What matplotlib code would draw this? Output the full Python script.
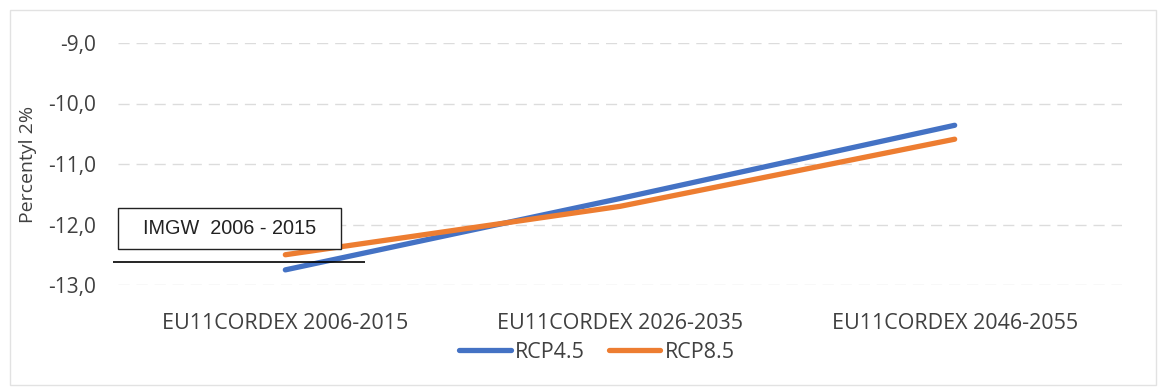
import matplotlib.pyplot as plt
from matplotlib.patches import Rectangle

categories = ["EU11CORDEX 2006-2015", "EU11CORDEX 2026-2035", "EU11CORDEX 2046-2055"]
rcp45 = [-12.75, -11.57, -10.36]
rcp85 = [-12.50, -11.70, -10.59]
imgw_value = -12.62
imgw_label = "IMGW  2006 - 2015"
y_ticks = [-13.0, -12.0, -11.0, -10.0, -9.0]

BLUE = "#4472C4"
ORANGE = "#ED7D31"
TEXT = "#404040"

plt.rcParams["font.family"] = ["Open Sans", "DejaVu Sans"]

fig = plt.figure(figsize=(11.66, 3.92), dpi=100)
ax = fig.add_axes([118 / 1166, 1 - 285 / 392, 1004 / 1166, 242 / 392])

x = list(range(len(categories)))
ax.plot(x, rcp45, color=BLUE, lw=3.8, solid_capstyle="round", label="RCP4.5", zorder=3)
ax.plot(x, rcp85, color=ORANGE, lw=3.8, solid_capstyle="round", label="RCP8.5", zorder=3)

ax.set_xlim(-0.5, len(categories) - 0.5)
ax.set_ylim(-13.0, -9.0)
ax.set_yticks(y_ticks)
ax.set_yticklabels([f"{v:.1f}".replace(".", ",") for v in y_ticks], fontsize=15, color=TEXT)
ax.set_xticks(x)
ax.set_xticklabels(categories, fontsize=15.5, color=TEXT)
ax.tick_params(length=0, pad=20, axis="x")
ax.tick_params(length=0, pad=16, axis="y")
for s in ax.spines.values():
    s.set_visible(False)
ax.grid(axis="y", color="#dcdcdc", lw=1.0, ls=(0, (8, 5)))
ax.set_axisbelow(True)
ax.set_ylabel("Percentyl 2%", fontsize=14, color=TEXT, labelpad=8)

# observed reference level with its caption box
ax.hlines(imgw_value, -0.516, 0.239, color="black", lw=1.2, clip_on=False, zorder=4)
ax.add_patch(Rectangle((-0.5, -12.40), 0.667, 0.67, facecolor="white",
                       edgecolor="#222222", lw=1.0, clip_on=False, zorder=5))
ax.text(-0.166, -12.065, imgw_label, ha="center", va="center", fontsize=14.3,
        family=["Liberation Sans"], color="#222222", zorder=6)

leg = ax.legend(loc="center", bbox_to_anchor=(0.477, -0.277), ncol=2, frameon=False,
                fontsize=15.5, handlelength=2.4, handletextpad=0.2, columnspacing=1.1,
                borderpad=0.1)
for t in leg.get_texts():
    t.set_color(TEXT)

# faint outer chart frame
fig.add_artist(Rectangle((10 / 1166, 7 / 392), 1146 / 1166, 375 / 392, transform=fig.transFigure,
                         fill=False, edgecolor="#e2e2e2", lw=1.0))

fig.savefig("out.png", dpi=100)
